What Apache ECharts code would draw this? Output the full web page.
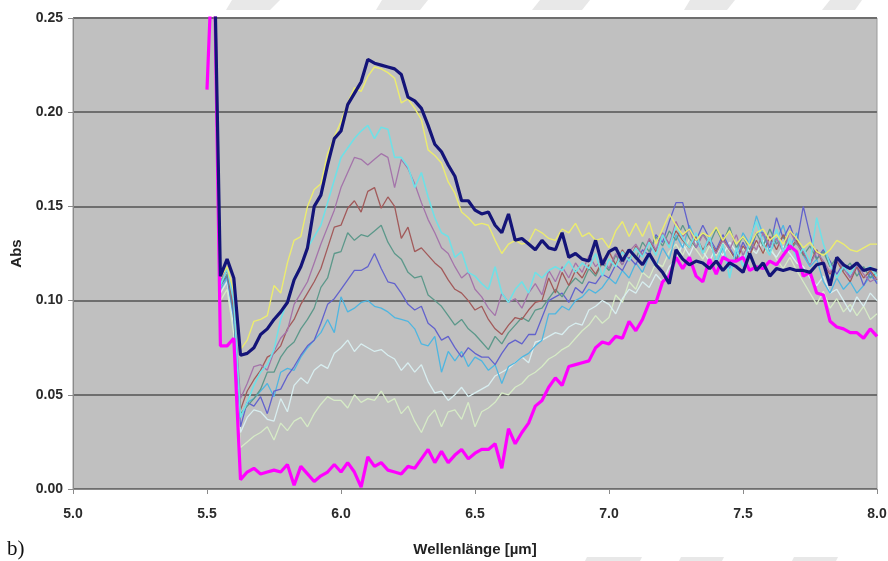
<!DOCTYPE html>
<html>
<head>
<meta charset="utf-8">
<script src="https://cdn.jsdelivr.net/npm/echarts@6/dist/echarts.min.js"></script>
<style>
html,body{margin:0;padding:0;background:#fff;}
#chart{width:888px;height:561px;}
</style>
</head>
<body>
<div id="chart"></div>
<script>
const xs = [
5.5,5.525,5.55,5.575,5.6,5.625,5.65,5.675,5.7,5.725,
5.75,5.775,5.8,5.825,5.85,5.875,5.9,5.925,5.95,5.975,
6,6.025,6.05,6.075,6.1,6.125,6.15,6.175,6.2,6.225,
6.25,6.275,6.3,6.325,6.35,6.375,6.4,6.425,6.45,6.475,
6.5,6.525,6.55,6.575,6.6,6.625,6.65,6.675,6.7,6.725,
6.75,6.775,6.8,6.825,6.85,6.875,6.9,6.925,6.95,6.975,
7,7.025,7.05,7.075,7.1,7.125,7.15,7.175,7.2,7.225,
7.25,7.275,7.3,7.325,7.35,7.375,7.4,7.425,7.45,7.475,
7.5,7.525,7.55,7.575,7.6,7.625,7.65,7.675,7.7,7.725,
7.75,7.775,7.8,7.825,7.85,7.875,7.9,7.925,7.95,7.975,
8];

const navy = [
null,0.30,0.113,0.122,0.112,0.071,0.072,0.075,0.082,0.085,
0.090,0.094,0.099,0.111,0.118,0.128,0.150,0.156,0.172,0.186,
0.190,0.204,0.210,0.216,0.228,0.226,0.225,0.224,0.223,0.220,
0.208,0.206,0.202,0.193,0.183,0.179,0.172,0.166,0.153,0.153,
0.148,0.146,0.147,0.140,0.136,0.146,0.132,0.133,0.130,0.127,
0.132,0.128,0.127,0.136,0.123,0.125,0.122,0.121,0.132,0.119,
0.126,0.128,0.121,0.127,0.123,0.119,0.125,0.119,0.115,0.109,
0.127,0.122,0.119,0.121,0.120,0.117,0.121,0.116,0.120,0.118,
0.115,0.125,0.116,0.120,0.113,0.117,0.116,0.117,0.116,0.116,
0.115,0.119,0.120,0.108,0.123,0.119,0.117,0.120,0.116,0.117,
0.116];

const magenta = [
0.212,0.30,0.076,0.076,0.080,0.005,0.009,0.011,0.008,0.009,
0.010,0.009,0.013,0.002,0.012,0.008,0.004,0.007,0.009,0.013,
0.009,0.014,0.009,0.001,0.017,0.012,0.014,0.010,0.009,0.008,
0.012,0.011,0.016,0.021,0.014,0.020,0.014,0.018,0.021,0.016,
0.019,0.021,0.021,0.024,0.011,0.032,0.024,0.030,0.035,0.044,
0.047,0.054,0.059,0.055,0.065,0.066,0.067,0.068,0.075,0.078,
0.077,0.081,0.080,0.089,0.084,0.090,0.099,0.099,0.110,0.113,
0.123,0.117,0.123,0.113,0.110,0.122,0.114,0.123,0.121,0.121,
0.123,0.116,0.118,0.117,0.121,0.119,0.124,0.129,0.126,0.113,
0.115,0.104,0.103,0.089,0.086,0.085,0.083,0.083,0.080,0.085,
0.081];

const yellow = [
null,0.30,0.112,0.118,0.105,0.074,0.079,0.089,0.090,0.092,
0.108,0.104,0.120,0.132,0.134,0.150,0.159,0.162,0.178,0.187,
0.195,0.205,0.213,0.211,0.219,0.224,0.223,0.221,0.218,0.205,
0.207,0.202,0.196,0.180,0.177,0.173,0.163,0.157,0.147,0.144,
0.140,0.141,0.140,0.132,0.125,0.130,0.132,0.130,0.131,0.138,
0.136,0.133,0.132,0.138,0.136,0.141,0.134,0.136,0.132,0.133,
0.128,0.137,0.142,0.134,0.141,0.134,0.142,0.130,0.138,0.146,
0.140,0.135,0.138,0.132,0.136,0.134,0.139,0.132,0.137,0.130,
0.134,0.129,0.136,0.138,0.132,0.135,0.130,0.137,0.133,0.128,
0.131,0.126,0.124,0.127,0.132,0.130,0.127,0.126,0.128,0.130,
0.130];

const cyan = [
null,0.30,0.108,0.117,0.100,0.038,0.046,0.055,0.062,0.066,
0.074,0.090,0.100,0.112,0.118,0.128,0.134,0.140,0.152,0.164,
0.176,0.181,0.186,0.190,0.193,0.186,0.192,0.191,0.176,0.176,
0.171,0.160,0.168,0.155,0.144,0.136,0.134,0.123,0.126,0.115,
0.113,0.109,0.106,0.118,0.104,0.099,0.106,0.110,0.104,0.115,
0.112,0.116,0.118,0.116,0.121,0.115,0.120,0.117,0.125,0.113,
0.122,0.118,0.126,0.121,0.128,0.123,0.131,0.124,0.135,0.128,
0.140,0.133,0.128,0.136,0.125,0.134,0.120,0.130,0.112,0.128,
0.118,0.132,0.142,0.130,0.124,0.138,0.126,0.133,0.122,0.128,
0.120,0.144,0.130,0.119,0.112,0.118,0.114,0.120,0.116,0.118,
0.113];

const mauve = [
null,0.30,0.110,0.118,0.098,0.048,0.056,0.065,0.066,0.063,
0.073,0.080,0.084,0.098,0.104,0.110,0.120,0.130,0.139,0.148,
0.160,0.168,0.176,0.175,0.172,0.175,0.178,0.176,0.160,0.175,
0.170,0.162,0.152,0.143,0.136,0.128,0.125,0.118,0.112,0.115,
0.106,0.102,0.096,0.092,0.104,0.099,0.101,0.096,0.104,0.109,
0.103,0.116,0.110,0.118,0.112,0.120,0.115,0.124,0.118,0.122,
0.117,0.125,0.119,0.126,0.130,0.124,0.133,0.127,0.136,0.130,
0.142,0.134,0.138,0.128,0.135,0.130,0.125,0.132,0.127,0.135,
0.124,0.131,0.127,0.136,0.129,0.133,0.126,0.137,0.130,0.126,
0.119,0.126,0.121,0.115,0.122,0.117,0.112,0.119,0.114,0.110,
0.112];

const brown = [
null,0.30,0.110,0.116,0.096,0.042,0.052,0.058,0.063,0.070,
0.072,0.076,0.085,0.090,0.098,0.104,0.110,0.117,0.128,0.139,
0.140,0.149,0.153,0.147,0.158,0.160,0.149,0.155,0.150,0.133,
0.139,0.126,0.128,0.124,0.120,0.117,0.111,0.106,0.104,0.100,
0.095,0.097,0.090,0.085,0.082,0.087,0.091,0.090,0.095,0.099,
0.100,0.112,0.104,0.115,0.108,0.116,0.112,0.119,0.114,0.121,
0.126,0.119,0.127,0.121,0.129,0.124,0.132,0.126,0.135,0.130,
0.137,0.132,0.128,0.134,0.127,0.131,0.126,0.133,0.127,0.121,
0.129,0.124,0.132,0.125,0.134,0.127,0.135,0.128,0.132,0.125,
0.120,0.127,0.119,0.114,0.121,0.115,0.110,0.118,0.112,0.116,
0.111];

const teal = [
null,0.30,0.108,0.114,0.094,0.040,0.044,0.048,0.053,0.062,
0.062,0.070,0.075,0.078,0.085,0.090,0.096,0.107,0.112,0.125,
0.126,0.136,0.132,0.135,0.134,0.137,0.140,0.131,0.125,0.122,
0.115,0.112,0.113,0.103,0.100,0.097,0.092,0.087,0.090,0.085,
0.082,0.078,0.074,0.081,0.077,0.083,0.087,0.091,0.089,0.095,
0.096,0.101,0.106,0.102,0.108,0.112,0.109,0.117,0.113,0.120,
0.116,0.124,0.119,0.127,0.122,0.131,0.126,0.134,0.129,0.137,
0.132,0.140,0.133,0.128,0.136,0.130,0.138,0.131,0.139,0.128,
0.134,0.127,0.136,0.129,0.138,0.130,0.134,0.127,0.131,0.124,
0.129,0.122,0.126,0.118,0.123,0.116,0.120,0.113,0.118,0.112,
0.115];

const violet = [
null,0.30,0.108,0.113,0.092,0.033,0.046,0.044,0.049,0.040,
0.052,0.053,0.060,0.065,0.071,0.076,0.079,0.088,0.098,0.101,
0.106,0.111,0.116,0.116,0.118,0.125,0.117,0.110,0.109,0.104,
0.098,0.095,0.097,0.088,0.085,0.079,0.081,0.075,0.070,0.075,
0.072,0.070,0.070,0.066,0.072,0.077,0.079,0.077,0.082,0.082,
0.091,0.100,0.102,0.104,0.099,0.107,0.104,0.110,0.109,0.114,
0.112,0.119,0.116,0.123,0.119,0.127,0.124,0.135,0.131,0.142,
0.152,0.152,0.138,0.132,0.140,0.133,0.127,0.135,0.128,0.122,
0.131,0.124,0.136,0.136,0.128,0.144,0.133,0.140,0.130,0.150,
0.135,0.122,0.127,0.121,0.114,0.120,0.112,0.118,0.108,0.115,
0.109];

const sky = [
null,0.30,0.106,0.112,0.090,0.038,0.046,0.048,0.052,0.056,
0.049,0.062,0.064,0.063,0.070,0.075,0.079,0.083,0.090,0.083,
0.102,0.094,0.096,0.099,0.100,0.097,0.096,0.094,0.091,0.090,
0.089,0.085,0.077,0.076,0.081,0.062,0.073,0.068,0.073,0.065,
0.070,0.068,0.063,0.066,0.056,0.065,0.067,0.070,0.072,0.076,
0.079,0.093,0.093,0.097,0.095,0.100,0.102,0.106,0.104,0.107,
0.112,0.109,0.116,0.112,0.120,0.115,0.124,0.118,0.128,0.122,
0.135,0.128,0.140,0.132,0.126,0.134,0.120,0.128,0.117,0.125,
0.136,0.130,0.145,0.135,0.126,0.132,0.140,0.128,0.136,0.124,
0.118,0.122,0.110,0.104,0.112,0.106,0.110,0.104,0.108,0.113,
0.110];

const paleCyan = [
null,0.30,0.104,0.110,0.086,0.030,0.038,0.042,0.041,0.037,
0.036,0.048,0.041,0.055,0.059,0.056,0.063,0.066,0.064,0.072,
0.075,0.079,0.073,0.077,0.075,0.073,0.074,0.071,0.069,0.063,
0.067,0.062,0.066,0.057,0.051,0.052,0.047,0.050,0.054,0.049,
0.051,0.053,0.055,0.060,0.062,0.064,0.067,0.070,0.067,0.078,
0.079,0.081,0.083,0.082,0.086,0.088,0.087,0.095,0.097,0.100,
0.098,0.093,0.101,0.106,0.104,0.110,0.107,0.114,0.110,0.118,
0.122,0.130,0.124,0.132,0.126,0.121,0.128,0.124,0.131,0.126,
0.122,0.128,0.125,0.132,0.127,0.123,0.129,0.125,0.120,0.118,
0.112,0.108,0.113,0.104,0.106,0.100,0.094,0.102,0.097,0.104,
0.100];

const paleGreen = [
null,0.30,0.100,0.106,0.082,0.022,0.025,0.028,0.030,0.033,
0.026,0.035,0.031,0.036,0.038,0.033,0.040,0.045,0.049,0.047,
0.047,0.043,0.050,0.046,0.048,0.047,0.052,0.046,0.048,0.040,
0.044,0.036,0.030,0.038,0.042,0.033,0.041,0.042,0.037,0.046,
0.033,0.041,0.043,0.046,0.051,0.050,0.054,0.056,0.060,0.062,
0.065,0.069,0.071,0.074,0.076,0.080,0.084,0.087,0.092,0.088,
0.091,0.103,0.099,0.110,0.106,0.115,0.112,0.120,0.118,0.126,
0.130,0.124,0.133,0.127,0.122,0.129,0.124,0.131,0.126,0.121,
0.128,0.123,0.131,0.125,0.129,0.122,0.117,0.123,0.116,0.110,
0.104,0.098,0.105,0.096,0.101,0.094,0.098,0.092,0.097,0.090,
0.093];

const xTicks = [5.0, 5.5, 6.0, 6.5, 7.0, 7.5, 8.0];
const yTicks = [0.00, 0.05, 0.10, 0.15, 0.20, 0.25];

const seriesDefs = [
  {name:'paleGreen', data: paleGreen, color:'#d6ebc6', width:1.3},
  {name:'paleCyan', data: paleCyan, color:'#d8eef0', width:1.3},
  {name:'sky', data: sky, color:'#4fb6e0', width:1.3},
  {name:'violet', data: violet, color:'#6262cc', width:1.3},
  {name:'teal', data: teal, color:'#5c988a', width:1.3},
  {name:'brown', data: brown, color:'#a25a5a', width:1.3},
  {name:'mauve', data: mauve, color:'#a474aa', width:1.3},
  {name:'cyan', data: cyan, color:'#6fe0e6', width:1.6},
  {name:'yellow', data: yellow, color:'#ecec6e', width:1.4},
  {name:'magenta', data: magenta, color:'#ff00ff', width:3.2},
  {name:'navy', data: navy, color:'#141478', width:3.2}
];

const chart = echarts.init(document.getElementById('chart'), null, {renderer:'canvas'});
const labelFont = {fontFamily:'Liberation Sans, Arial, sans-serif', fontWeight:'bold', fontSize:14, color:'#2a2a2a'};

const wmTop = [
  [[232,0],[280,0],[270,10],[226,10]],
  [[382,0],[428,0],[420,10],[376,10]],
  [[540,0],[590,0],[582,10],[532,10]],
  [[690,0],[735,0],[727,10],[684,10]],
  [[830,0],[862,0],[855,10],[822,10]]
];
const wmBot = [
  [[587,557],[642,557],[640,561],[585,561]],
  [[681,557],[724,557],[722,561],[679,561]],
  [[794,557],[838,557],[836,561],[792,561]]
];

chart.setOption({
  animation:false,
  backgroundColor:'#ffffff',
  grid:{left:73, right:11, top:18, bottom:72, containLabel:false, outerBoundsMode:'none',
        show:true, backgroundColor:'#c0c0c0', borderColor:'#9a9a9a', borderWidth:1},
  graphic: [
    ...wmTop.concat(wmBot).map(p => ({type:'polygon', shape:{points:p}, style:{fill:'#e8e8e8'}, silent:true, z:-1})),
    {type:'text', left:7, top:539, style:{text:'b)', font:'21px "Liberation Serif", "Times New Roman", serif', fill:'#111'}}
  ],
  xAxis:{
    type:'value', min:5, max:8, interval:0.5,
    name:'Wellenlänge [µm]', nameLocation:'middle', nameGap:53,
    nameTextStyle:{fontFamily:'Liberation Sans, Arial, sans-serif', fontWeight:'bold', fontSize:15, color:'#222'},
    axisLine:{show:true, lineStyle:{color:'#8a8a8a', width:1}},
    axisTick:{show:true, length:5, lineStyle:{color:'#8a8a8a'}},
    axisLabel:Object.assign({margin:18, formatter: v => xTicks.includes(v) ? v.toFixed(1) : ''}, labelFont),
    splitLine:{show:false}
  },
  yAxis:{
    type:'value', min:0, max:0.25, interval:0.05,
    name:'Abs', nameLocation:'middle', nameGap:49, nameRotate:90,
    nameTextStyle:{fontFamily:'Liberation Sans, Arial, sans-serif', fontWeight:'bold', fontSize:15, color:'#222'},
    axisLine:{show:true, lineStyle:{color:'#8a8a8a', width:1}},
    axisTick:{show:true, length:5, lineStyle:{color:'#8a8a8a'}},
    axisLabel:Object.assign({margin:10, formatter: v => yTicks.some(t => Math.abs(t - v) < 1e-9) ? v.toFixed(2) : ''}, labelFont),
    splitLine:{show:true, lineStyle:{color:'#6e6e6e', width:2}}
  },
  series: seriesDefs.map(s => ({
    name:s.name, type:'line', showSymbol:false, symbol:'none', clip:true, connectNulls:false,
    lineStyle:{color:s.color, width:s.width}, itemStyle:{color:s.color},
    data: xs.map((x,i) => [x, s.data[i]])
  }))
});
</script>
</body>
</html>
